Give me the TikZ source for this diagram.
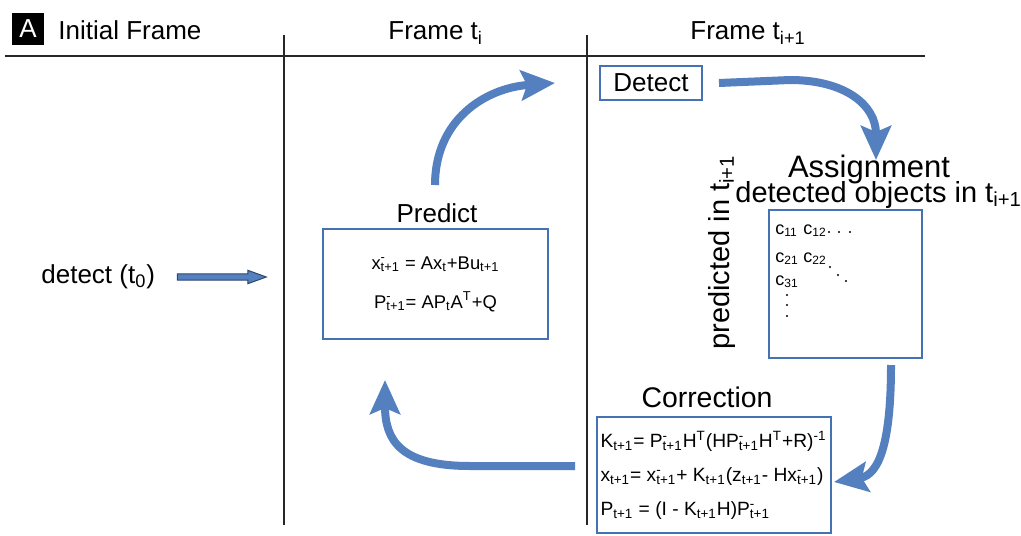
\documentclass[tikz,border=0pt]{standalone}
\usepackage{fontspec}
\setmainfont{Liberation Sans}
\usetikzlibrary{arrows.meta,shapes.arrows}
\definecolor{flowblue}{RGB}{84,128,192}
\definecolor{frameblue}{RGB}{68,114,180}
\definecolor{edgeblue}{RGB}{45,70,110}
\newcommand{\sbs}[1]{\textsubscript{#1}}
\newcommand{\sps}[1]{\textsuperscript{#1}}
\newcommand{\msb}[1]{\rlap{\textsuperscript{-}}\textsubscript{#1}}

\begin{document}
\begin{tikzpicture}[x=0.5pt,y=-0.5pt,
    rule/.style={black!85, line width=1pt},
    flow/.style={flowblue, line width=4pt, -{Stealth[length=17pt,width=15pt,inset=3pt]}},
    stagebox/.style={draw=frameblue, line width=1pt, inner sep=2pt},
    lbl/.style={inner sep=0pt},
    cell/.style={inner sep=0pt, anchor=base west, font=\fontsize{9}{9}\selectfont}]
    \useasboundingbox (0,0) rectangle (1021,535);
    % header
    \node[fill=black, text=white, minimum size=16pt, inner sep=0pt, font=\fontsize{13}{13}\selectfont] (panel) at (28,29) {A};
    \node[lbl, anchor=base west, font=\fontsize{13}{15}\selectfont] (initial) at (58,40) {Initial Frame};
    \node[lbl, anchor=base west, font=\fontsize{13}{15}\selectfont] (framei) at (388,40) {Frame t\sbs{i}};
    \node[lbl, anchor=base west, font=\fontsize{13}{15}\selectfont] (framenext) at (690,40) {Frame t\sbs{i+1}};
    \draw[rule] (5,56) -- (925,56);
    \draw[rule] (284,35) -- (284,525);
    \draw[rule] (587,35) -- (587,525);

    % initial frame
    \node[lbl, anchor=base west, font=\fontsize{13}{15}\selectfont] (detect0) at (41,283) {detect (t\sbs{0})};
    \node[single arrow, draw=edgeblue, fill=flowblue, line width=0.5pt, inner sep=1.3pt,
          minimum width=0pt, minimum height=44.5pt, single arrow head extend=1.8pt,
          single arrow tip angle=40] (startarrow) at (217.5,277) {};

    % frame t_i
    \node[lbl, anchor=base, font=\fontsize{13}{15}\selectfont] (predtitle) at (437,222) {Predict};
    \node[stagebox, minimum width=112.5pt, minimum height=55pt, align=center,
          font=\fontsize{9.2}{19.5}\selectfont] (predict) at (435.5,284)
          {x\msb{t+1} = Ax\sbs{t}+Bu\sbs{t+1}\\P\msb{t+1}= AP\sbs{t}A\sps{T}+Q};

    % frame t_{i+1}
    \node[stagebox, minimum width=51pt, minimum height=17pt, font=\fontsize{13}{15}\selectfont] (detect) at (651,83) {Detect};
    \node[lbl, anchor=base, font=\fontsize{15.5}{17}\selectfont] (assigntitle) at (869,177) {Assignment};
    \node[lbl, anchor=base west, font=\fontsize{14.5}{16}\selectfont] (detobj) at (735,202) {detected objects in t\sbs{i+1}};
    \node[lbl, anchor=base west, rotate=90, font=\fontsize{14.5}{16}\selectfont] (predobj) at (729,350) {predicted in t\sbs{i+1}};
    \node[stagebox, minimum width=76.5pt, minimum height=74pt] (costmat) at (845.5,284) {};
    \node[cell] (c11) at (775,234) {c\sbs{11}};
    \node[cell] (c12) at (803,234) {c\sbs{12}};
    \node[cell] (c21) at (775,262) {c\sbs{21}};
    \node[cell] (c22) at (803,262) {c\sbs{22}};
    \node[cell] (c31) at (775,285) {c\sbs{31}};
    \foreach \px/\py in {829/232,839/232,850/232,830/267,838/275,846/281,787/295,787/305,787/316}
        \fill (\px,\py) circle[radius=0.6pt];

    \node[lbl, anchor=base, font=\fontsize{14.2}{16}\selectfont] (corrtitle) at (707,407) {Correction};
    \node[stagebox, minimum width=116.5pt, minimum height=58pt, align=left,
          font=\fontsize{9.6}{17}\selectfont] (correct) at (713.5,475)
          {K\sbs{t+1}= P\msb{t+1}H\sps{T}(HP\msb{t+1}H\sps{T}+R)\sps{-1}\\
           x\sbs{t+1}= x\msb{t+1}+ K\sbs{t+1}(z\sbs{t+1}- Hx\msb{t+1})\\
           P\sbs{t+1} = (I - K\sbs{t+1}H)P\msb{t+1}};

    % loop
    \coordinate (predup) at (435,185);
    \coordinate (detectin) at (555,83);
    \coordinate (assignin) at (876,160);
    \coordinate (matout) at (891,365);
    \coordinate (corrin) at (834,482);
    \coordinate (corrout) at (575,466);
    \coordinate (predin) at (385,380);
    \draw[flow] (predup) .. controls (435,120) and (485,88) .. (detectin);
    \draw[flow] ([xshift=8pt]detect.east) -- (790,80) .. controls (845,80) and (876,105) .. (assignin);
    \draw[flow] (matout) .. controls (891,440) and (880,475) .. (corrin);
    \draw[flow] (corrout) -- (470,466) .. controls (400,466) and (385,440) .. (predin);
\end{tikzpicture}
\end{document}
